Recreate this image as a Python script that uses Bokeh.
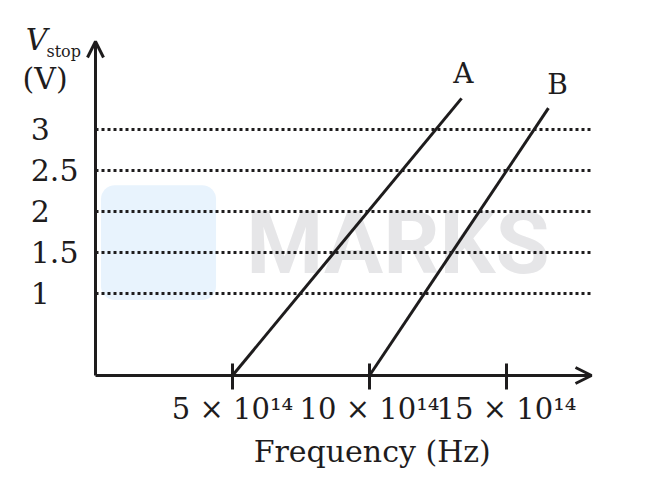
from bokeh.plotting import figure
from bokeh.models import (FixedTicker, Label, Arrow, OpenHead, BoxAnnotation,
                          Range1d, LinearAxis)
from bokeh.embed import file_html
from bokeh.resources import INLINE

# ---- data ----
freq_ticks = [5, 10, 15]                       # x 10^14 Hz
freq_tick_labels = ["5 × 10¹⁴", "10 × 10¹⁴", "15 × 10¹⁴"]
v_levels = [1, 1.5, 2, 2.5, 3]                 # V
v_level_labels = ["1\u2008\u2007", "1.5", "2\u2008\u2007", "2.5", "3\u2008\u2007"]
line_a_x = [5, 13.36]
line_a_y = [0, 3.38]
line_b_x = [10, 16.53]
line_b_y = [0, 3.26]

INK = "#1e1c1d"
SERIF = "DejaVu Serif"

W, H = 654, 476
PX_X = 27.4     # px per 10^14 Hz
PX_Y = 82.0     # px per volt
ORIG_X, ORIG_Y = 95, 375
AX_X_END = (591 - ORIG_X) / PX_X
AX_Y_END = (ORIG_Y - 41) / PX_Y

p = figure(width=W, height=H, output_backend="svg", toolbar_location=None,
           x_range=Range1d(-ORIG_X / PX_X, (W - ORIG_X) / PX_X),
           y_range=Range1d((ORIG_Y - H) / PX_Y, ORIG_Y / PX_Y),
           x_axis_type=None, y_axis_type=None,
           min_border_left=0, min_border_right=0, min_border_top=0, min_border_bottom=0)
p.outline_line_color = None
p.grid.visible = False
p.background_fill_color = "white"
p.border_fill_color = "white"

# watermark
p.add_layout(BoxAnnotation(left=0.2, right=4.4, bottom=0.92, top=2.32,
                           fill_color="#e8f3fd", fill_alpha=1, line_color=None,
                           border_radius=14, level="underlay"))
p.add_layout(Label(x=5.5, y=0.99, text="MARKS", text_font="Roboto", text_font_style="bold",
                   text_font_size="88px", text_color="#e6e6e8", level="underlay"))

# x axis
xax = LinearAxis(ticker=FixedTicker(ticks=freq_ticks), fixed_location=0,
                 major_label_overrides={t: l for t, l in zip(freq_ticks, freq_tick_labels)})
xax.axis_line_color = None
xax.major_tick_in = 12
xax.major_tick_out = 14
xax.major_tick_line_width = 3
xax.major_tick_line_color = INK
xax.minor_tick_line_color = None
xax.major_label_standoff = 2
xax.major_label_text_font = SERIF
xax.major_label_text_font_size = "29px"
xax.major_label_text_color = INK
p.add_layout(xax, "below")

# y axis
yax = LinearAxis(ticker=FixedTicker(ticks=v_levels), fixed_location=0,
                 major_label_overrides={t: l for t, l in zip(v_levels, v_level_labels)})
yax.axis_line_color = None
yax.major_tick_line_color = None
yax.major_tick_in = 0
yax.major_tick_out = 0
yax.minor_tick_line_color = None
yax.major_label_standoff = 17
yax.major_label_text_font = SERIF
yax.major_label_text_font_size = "30px"
yax.major_label_text_color = INK
p.add_layout(yax, "left")

# dotted reference lines
p.segment(x0=[0] * len(v_levels), y0=v_levels, x1=[AX_X_END] * len(v_levels), y1=v_levels,
          line_color=INK, line_width=3, line_dash="3 3")

# axis arrows
for xs, ys, xe, ye in [(0, 0, AX_X_END, 0), (0, 0, 0, AX_Y_END)]:
    p.add_layout(Arrow(end=OpenHead(size=16, line_width=3, line_color=INK),
                       x_start=xs, y_start=ys, x_end=xe, y_end=ye,
                       line_width=3, line_color=INK))

# lines A and B
p.line(line_a_x, line_a_y, line_width=3, line_color=INK)
p.line(line_b_x, line_b_y, line_width=3, line_color=INK)


def lab(x, y, text, size, align="left", style="normal"):
    p.add_layout(Label(x=x, y=y, text=text, text_align=align, text_font=SERIF,
                       text_font_size=size, text_font_style=style, text_color=INK))


lab(13.43, 3.48, "A", "28px", "center")
lab(16.86, 3.35, "B", "28px", "center")
lab(10.1, -1.146, "Frequency (Hz)", "30px", "center")
lab(-2.55, 3.88, "V", "30px", style="italic")
lab(-1.79, 3.83, "stop", "16px")
lab(-2.66, 3.41, "(V)", "30px")

open("out.html", "w").write(file_html(p, INLINE))
